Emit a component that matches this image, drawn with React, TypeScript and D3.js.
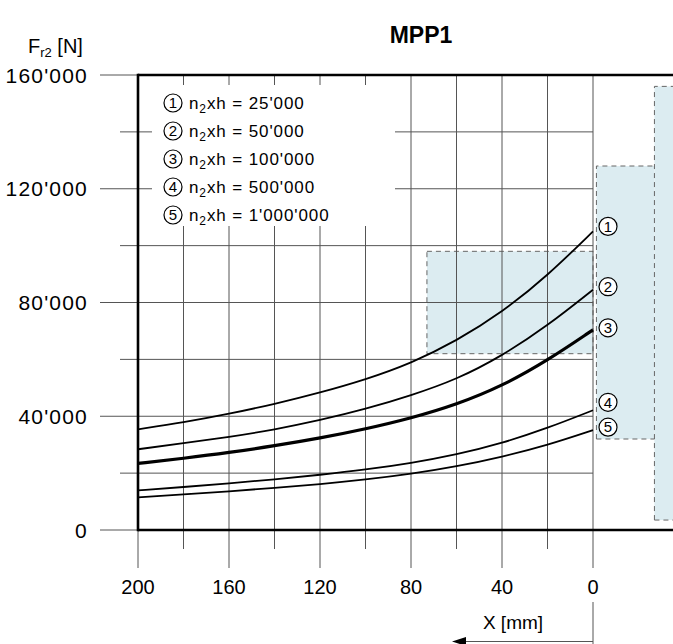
import React from "react";
import * as d3 from "d3";

const W = 673;
const H = 644;

const xPositions = [200, 180, 160, 140, 120, 100, 80, 60, 40, 20, 0];
const curve1 = [35400, 37800, 40800, 44300, 48300, 52900, 58600, 66500, 76500, 89400, 105000];
const curve2 = [28400, 30500, 32700, 35300, 38600, 42500, 47300, 52900, 61200, 71800, 84500];
const curve3 = [23400, 25200, 27200, 29600, 32300, 35500, 39300, 44100, 50600, 59600, 70400];
const curve4 = [13900, 15100, 16400, 17800, 19400, 21200, 23500, 26500, 30500, 35800, 42100];
const curve5 = [11500, 12500, 13600, 14800, 16100, 17700, 19700, 22300, 25700, 29800, 35100];
const seriesValues = [curve1, curve2, curve3, curve4, curve5];
const seriesNames = ["n2xh = 25'000", "n2xh = 50'000", "n2xh = 100'000", "n2xh = 500'000", "n2xh = 1'000'000"];
const seriesWidths = [1.8, 1.8, 3.2, 1.8, 1.8];
const labelLift = [5, 3, 2, 8, 3];

const yTicksMajor = [0, 40000, 80000, 120000, 160000];
const yTickLabels = ["0", "40'000", "80'000", "120'000", "160'000"];
const yTicksMinor = [20000, 60000, 100000, 140000];
const yGrid = [20000, 40000, 60000, 80000, 100000, 120000, 140000];
const xTicksMajor = [200, 160, 120, 80, 40, 0];
const xTickLabels = ["200", "160", "120", "80", "40", "0"];
const xTicksMinor = [180, 140, 100, 60, 20];

// shaded zones: [xFrom, xTo, yFrom, yTo]
const zoneA = [73, 0, 62000, 98000];
const zoneB = [-1.5, -27, 32000, 128000];
const zoneC = [-27, -45, 3500, 156000];

const FONT = "'Liberation Sans', Arial, Helvetica, sans-serif";
const FILL = "#dcecf1";
const GRID = "#555";

export default function App() {
  const x = d3.scaleLinear().domain([200, 0]).range([138, 593]);
  const y = d3.scaleLinear().domain([0, 160000]).range([530, 75]);
  const xEnd = x(-36);
  const line = d3
    .line<number>()
    .x((_, i) => x(xPositions[i]))
    .y((d) => y(d))
    .curve(d3.curveBasis);

  const dash = "5,4";
  const dashColor = "#666";

  const zoneRect = (z: number[]) => ({
    x: x(z[0]),
    y: y(z[3]),
    w: x(z[1]) - x(z[0]),
    h: y(z[2]) - y(z[3]),
  });
  const a = zoneRect(zoneA);
  const b = zoneRect(zoneB);
  const c = zoneRect(zoneC);

  const legendX = 152;
  const legendTop = 85;
  const legendRowY = (i: number) => 103 + i * 28;

  const circled = (cx: number, cy: number, n: number, key: string) => (
    <g key={key}>
      <circle cx={cx} cy={cy} r={9} fill="#fff" stroke="#000" strokeWidth={1.2} />
      <text x={cx} y={cy + 5.3} textAnchor="middle" fontSize={15} fontFamily={FONT}>
        {n}
      </text>
    </g>
  );

  return (
    <svg
      width={W}
      height={H}
      style={{ position: "absolute", left: 0, top: 0, background: "#fff" }}
      fontFamily={FONT}
    >
      <rect x={0} y={0} width={W} height={H} fill="#fff" />
      {/* zones */}
      <rect x={c.x} y={c.y} width={c.w} height={c.h} fill={FILL} />
      <rect x={b.x} y={b.y} width={b.w} height={b.h} fill={FILL} />
      <rect x={a.x} y={a.y} width={a.w} height={a.h} fill={FILL} />
      {/* zone borders */}
      <g stroke={dashColor} strokeWidth={1} strokeDasharray={dash} fill="none">
        <rect x={a.x} y={a.y} width={a.w} height={a.h} />
        <path d={`M${b.x},${b.y + b.h}V${b.y}H${b.x + b.w}M${b.x},${b.y + b.h}H${b.x + b.w}`} />
        <path d={`M${c.x},${c.y + c.h}V${c.y}H${xEnd}M${c.x},${c.y + c.h}H${xEnd}`} />
      </g>
      {/* grid */}
      <g stroke={GRID} strokeWidth={1}>
        {yGrid.map((v) => (
          <line key={"hg" + v} x1={x(200)} x2={x(0)} y1={y(v)} y2={y(v)} />
        ))}
        {yTicksMajor.map((v) => (
          <line key={"ytM" + v} x1={100} x2={x(200)} y1={y(v)} y2={y(v)} />
        ))}
        {yTicksMinor.map((v) => (
          <line key={"ytm" + v} x1={120} x2={x(200)} y1={y(v)} y2={y(v)} />
        ))}
        {xTicksMajor.map((v) => (
          <line key={"xtM" + v} x1={x(v)} x2={x(v)} y1={y(160000)} y2={568} />
        ))}
        {xTicksMinor.map((v) => (
          <line key={"xtm" + v} x1={x(v)} x2={x(v)} y1={y(160000)} y2={549} />
        ))}
        <line x1={x(0)} x2={x(0)} y1={602} y2={H} />
        <line x1={462} x2={x(0)} y1={641.5} y2={641.5} />
      </g>
      <path d="M452,641.5 L466,637 L466,646 Z" fill="#000" />
      {/* legend box */}
      <rect x={legendX} y={legendTop} width={243} height={141} fill="#fff" />
      {seriesNames.map((s, i) => {
        const cy = legendRowY(i);
        return (
          <g key={"lg" + i}>
            {circled(173, cy, i + 1, "lc" + i)}
            <text x={189} y={cy + 6} fontSize={17} letterSpacing={0.9}>
              n<tspan fontSize={12} dy={4}>2</tspan>
              <tspan dy={-4}>{s.slice(2)}</tspan>
            </text>
          </g>
        );
      })}
      {/* axes borders */}
      <g stroke="#000" strokeWidth={2.6} fill="none">
        <line x1={x(200)} x2={xEnd} y1={y(160000)} y2={y(160000)} />
        <line x1={x(200)} x2={xEnd} y1={y(0)} y2={y(0)} />
        <line x1={x(200)} x2={x(200)} y1={y(160000) - 1.3} y2={y(0) + 1.3} />
      </g>
      {/* curves */}
      {seriesValues.map((vals, i) => (
        <path
          key={"c" + i}
          d={line(vals) || ""}
          fill="none"
          stroke="#000"
          strokeWidth={seriesWidths[i]}
        />
      ))}
      {/* end labels */}
      {seriesValues.map((vals, i) =>
        circled(608, y(vals[vals.length - 1]) - labelLift[i], i + 1, "el" + i)
      )}
      {/* tick labels */}
      {yTicksMajor.map((v, i) => (
        <text key={"yl" + v} x={88} y={y(v) + 7.5} textAnchor="end" fontSize={21} letterSpacing={1.2}>
          {yTickLabels[i]}
        </text>
      ))}
      {xTicksMajor.map((v, i) => (
        <text key={"xl" + v} x={x(v)} y={594} textAnchor="middle" fontSize={20}>
          {xTickLabels[i]}
        </text>
      ))}
      <text x={513} y={629} textAnchor="middle" fontSize={19}>
        X [mm]
      </text>
      <text x={28} y={53} fontSize={20}>
        F<tspan fontSize={13} dy={4}>r2</tspan>
        <tspan dy={-4}> [N]</tspan>
      </text>
      <text x={421} y={43} textAnchor="middle" fontSize={23} fontWeight="bold">
        MPP1
      </text>
    </svg>
  );
}
